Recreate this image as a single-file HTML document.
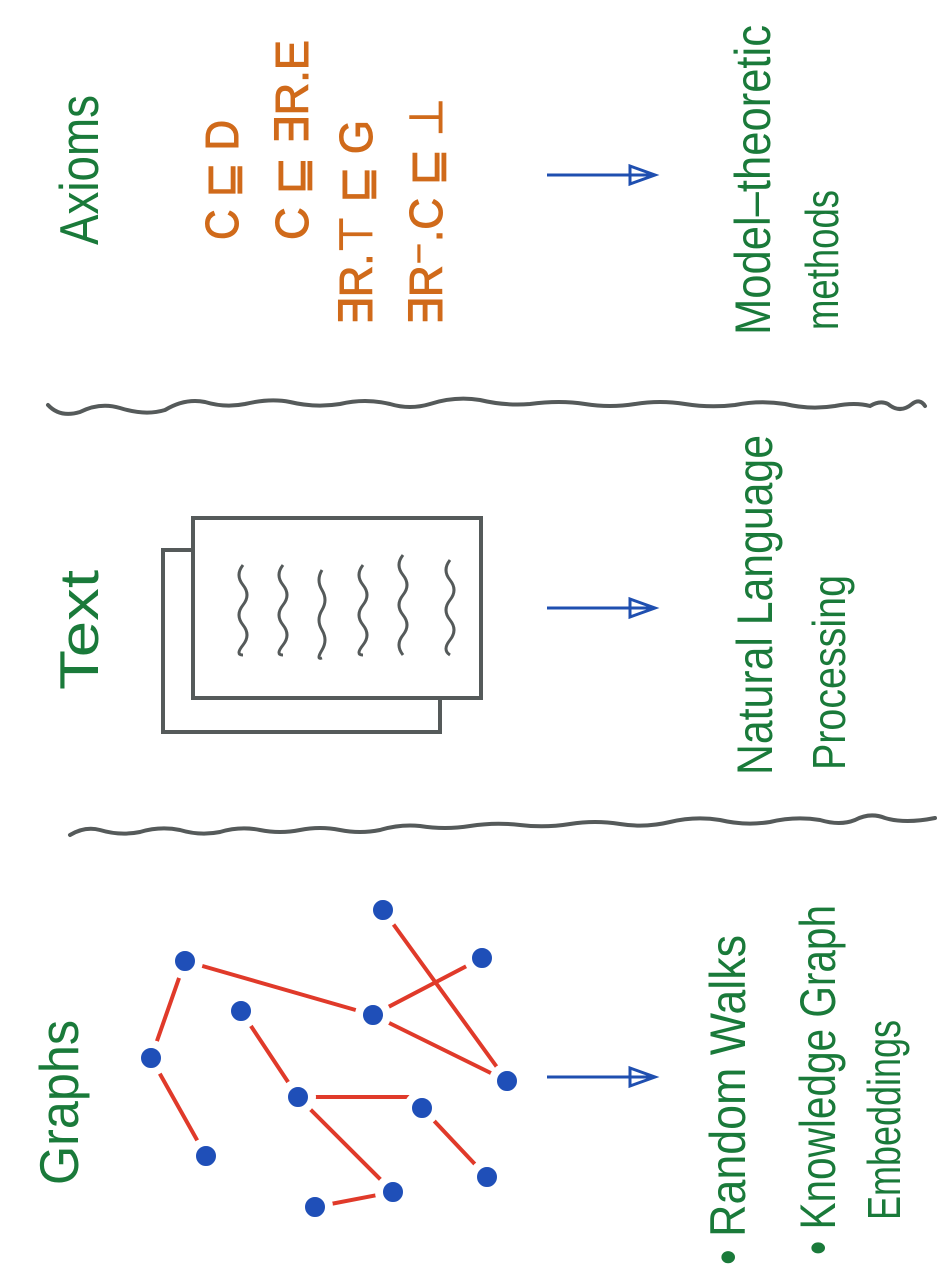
<!DOCTYPE html>
<html><head><meta charset="utf-8"><style>html,body{margin:0;padding:0;background:#fff}svg{display:block}</style></head>
<body>
<svg width="946" height="1280" viewBox="0 0 946 1280" xmlns="http://www.w3.org/2000/svg" font-family="Liberation Sans, DejaVu Sans, sans-serif">
<g fill="#1a7a3a">
<text transform="translate(98,245) rotate(-90)" font-size="55" textLength="150" lengthAdjust="spacingAndGlyphs">Axioms</text>
<text transform="translate(98,690) rotate(-90)" font-size="55" textLength="120" lengthAdjust="spacingAndGlyphs">Text</text>
<text transform="translate(78,1185) rotate(-90)" font-size="55" textLength="165" lengthAdjust="spacingAndGlyphs">Graphs</text>
<text transform="translate(770,335) rotate(-90)" font-size="50" textLength="310" lengthAdjust="spacingAndGlyphs">Model–theoretic</text>
<text transform="translate(838,330) rotate(-90)" font-size="46" textLength="140" lengthAdjust="spacingAndGlyphs">methods</text>
<text transform="translate(772,775) rotate(-90)" font-size="50" textLength="340" lengthAdjust="spacingAndGlyphs">Natural Language</text>
<text transform="translate(845,770) rotate(-90)" font-size="46" textLength="195" lengthAdjust="spacingAndGlyphs">Processing</text>
<text transform="translate(745,1265) rotate(-90)" font-size="50" textLength="330" lengthAdjust="spacingAndGlyphs">• Random Walks</text>
<text transform="translate(835,1255) rotate(-90)" font-size="50" textLength="350" lengthAdjust="spacingAndGlyphs">• Knowledge Graph</text>
<text transform="translate(900,1220) rotate(-90)" font-size="46" textLength="200" lengthAdjust="spacingAndGlyphs">Embeddings</text>
</g>
<g fill="#d06a1a" stroke="#d06a1a" stroke-width="1" font-size="46">
<text transform="translate(238,240) rotate(-90)" textLength="120" lengthAdjust="spacingAndGlyphs">C ⊑ D</text>
<text transform="translate(308,240) rotate(-90)" textLength="200" lengthAdjust="spacingAndGlyphs">C ⊑ ∃R.E</text>
<text transform="translate(372,325) rotate(-90)" textLength="205" lengthAdjust="spacingAndGlyphs">∃R.⊤ ⊑ G</text>
<text transform="translate(442,325) rotate(-90)" textLength="227" lengthAdjust="spacingAndGlyphs">∃R⁻.C ⊑ ⊥</text>
</g>
<g stroke="#1f4fb0" stroke-width="3" fill="none">
<path d="M547 175 H655 M630 166 L655 175 L630 184 Z"/>
<path d="M547 608 H655 M630 599 L655 608 L630 617 Z"/>
<path d="M547 1077 H655 M630 1068 L655 1077 L630 1086 Z"/>
</g>
<g stroke="#555a5a" stroke-width="4" fill="none" stroke-linecap="round">
<path d="M48 405 Q60 418 80 412 Q100 402 120 408 Q145 416 165 410 Q185 398 205 402 Q225 408 245 404 Q270 398 290 402 Q315 408 340 404 Q365 398 390 404 Q410 410 430 404 Q455 396 480 400 Q505 406 530 404 Q560 400 585 404 Q610 408 635 404 Q660 400 685 404 Q710 408 735 405 Q760 400 785 404 Q810 410 835 406 Q855 402 870 406 Q880 400 888 404 Q900 414 912 404 Q920 398 925 406"/>
<path d="M70 835 Q85 826 100 830 Q120 836 140 832 Q160 826 180 830 Q200 836 220 832 Q240 826 260 830 Q280 834 300 830 Q320 826 340 830 Q360 834 380 830 Q400 824 420 826 Q445 830 470 826 Q495 822 520 825 Q545 828 570 824 Q595 820 620 824 Q645 828 670 822 Q695 816 720 820 Q745 826 770 822 Q795 816 820 820 Q840 826 855 820 Q870 812 885 818 Q905 824 935 818"/>
<path d="M193 550 H163 V732 H440 V698"/>
<rect x="193" y="518" width="288" height="180"/>
</g>
<g stroke="#555a5a" stroke-width="3" fill="none">
<path d="M243 565 q-8 10 0 20 t0 20 t0 20 t0 20 t0 10"/>
<path d="M283 565 q-8 10 0 20 t0 20 t0 20 t0 20 t0 10"/>
<path d="M322 570 q-6 10 0 20 t0 20 t0 20 t0 20 t0 8"/>
<path d="M363 565 q-8 10 0 20 t0 20 t0 20 t0 20 t0 10"/>
<path d="M403 555 q-8 10 0 20 t0 20 t0 20 t0 20 t0 20"/>
<path d="M450 560 q-8 10 0 20 t0 20 t0 20 t0 20 t0 15"/>
</g>
<g stroke="#e03a2a" stroke-width="4" stroke-linecap="round">
<line x1="185" y1="961" x2="373" y2="1015"/>
<line x1="185" y1="961" x2="151" y2="1058"/>
<line x1="151" y1="1058" x2="206" y2="1156"/>
<line x1="383" y1="910" x2="507" y2="1081"/>
<line x1="482" y1="958" x2="373" y2="1015"/>
<line x1="373" y1="1015" x2="507" y2="1081"/>
<line x1="241" y1="1011" x2="298" y2="1097"/>
<line x1="298" y1="1097" x2="422" y2="1097"/>
<line x1="298" y1="1097" x2="393" y2="1192"/>
<line x1="422" y1="1108" x2="487" y2="1177"/>
<line x1="393" y1="1192" x2="315" y2="1207"/>
</g>
<g fill="#1f4fb8" stroke="#fff" stroke-width="8">
<circle cx="383" cy="910" r="14"/><circle cx="482" cy="958" r="14"/><circle cx="185" cy="961" r="14"/>
<circle cx="241" cy="1011" r="14"/><circle cx="373" cy="1015" r="14"/><circle cx="151" cy="1058" r="14"/>
<circle cx="507" cy="1081" r="14"/><circle cx="298" cy="1097" r="14"/><circle cx="422" cy="1108" r="14"/>
<circle cx="206" cy="1156" r="14"/><circle cx="487" cy="1177" r="14"/><circle cx="393" cy="1192" r="14"/>
<circle cx="315" cy="1207" r="14"/>
</g>
</svg>
</body></html>
